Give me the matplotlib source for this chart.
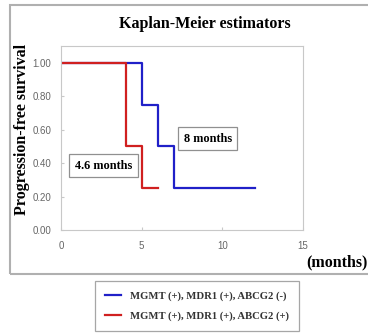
import matplotlib
matplotlib.use("Agg")
import matplotlib.pyplot as plt
from matplotlib.patches import Rectangle
from matplotlib.lines import Line2D

# Data
blue_t = [0, 5, 5, 6, 6, 7, 7, 12]
blue_s = [1.0, 1.0, 0.75, 0.75, 0.5, 0.5, 0.25, 0.25]
red_t = [0, 4, 4, 5, 5, 6]
red_s = [1.0, 1.0, 0.5, 0.5, 0.25, 0.25]
xticks = [0, 5, 10, 15]
yticks = [0.0, 0.2, 0.4, 0.6, 0.8, 1.0]
labels = ["MGMT (+), MDR1 (+), ABCG2 (-)", "MGMT (+), MDR1 (+), ABCG2 (+)"]

W, H = 368, 333
fig = plt.figure(figsize=(W/100, H/100), dpi=100)
fig.patch.set_facecolor("white")

# outer frame
fig.patches.append(Rectangle((10/W, 1-274/H), 380/W, 269/H, transform=fig.transFigure,
                             fill=False, edgecolor="#b0b0b0", linewidth=1.5))

ax = fig.add_axes([61/W, 1-230/H, 242/W, 184/H])
ax.plot(blue_t, blue_s, color="#2020c8", linewidth=1.6)
ax.plot(red_t, red_s, color="#d02020", linewidth=1.6)
ax.set_xlim(0, 15)
ax.set_ylim(0, 1.1)
ax.set_xticks(xticks)
ax.set_yticks(yticks)
ax.set_xticklabels([str(x) for x in xticks])
ax.set_yticklabels([f"{y:.2f}" for y in yticks])
for s in ax.spines.values():
    s.set_color("#c8c8c8")
ax.tick_params(axis="both", colors="#c8c8c8", labelcolor="#666666", labelsize=7,
               direction="in", length=2)
ax.tick_params(axis="x", pad=8)
ax.tick_params(axis="y", pad=7)
for lab in ax.get_xticklabels() + ax.get_yticklabels():
    lab.set_family("Liberation Sans")

serif = "Liberation Serif"
fig.text(205/W, 1-24/H, "Kaplan-Meier estimators", ha="center", va="center",
         family=serif, weight="bold", fontsize=11.5)
fig.text(22/W, 1-129/H, "Progression-free survival", ha="center", va="center",
         rotation=90, family=serif, weight="bold", fontsize=11.5)
fig.text(337/W, 1-262/H, "(months)", ha="center", va="center",
         family=serif, weight="bold", fontsize=11.5)

ax.text(9.1, 0.547, "8 months", ha="center", va="center", family=serif, weight="bold",
        fontsize=8.8, bbox=dict(boxstyle="square,pad=0.45", facecolor="white", edgecolor="#909090", linewidth=0.9))
ax.text(2.63, 0.383, "4.6 months", ha="center", va="center", family=serif, weight="bold",
        fontsize=8.8, bbox=dict(boxstyle="square,pad=0.45", facecolor="white", edgecolor="#909090", linewidth=0.9))

handles = [Line2D([], [], color="#2020c8", linewidth=1.6),
           Line2D([], [], color="#d02020", linewidth=1.6)]
leg = fig.legend(handles, labels, loc="center", bbox_to_anchor=(197/W, 1-306/H),
                 frameon=True, fancybox=False, handlelength=1.5, handletextpad=0.9,
                 prop={"family": serif, "weight": "bold", "size": 7.7}, labelspacing=1.0,
                 borderpad=0.95, borderaxespad=0)
leg.get_frame().set_edgecolor("#909090")
leg.get_frame().set_linewidth(0.9)
for t in leg.get_texts():
    t.set_color("#333333")

fig.savefig("out.png", dpi=100)
